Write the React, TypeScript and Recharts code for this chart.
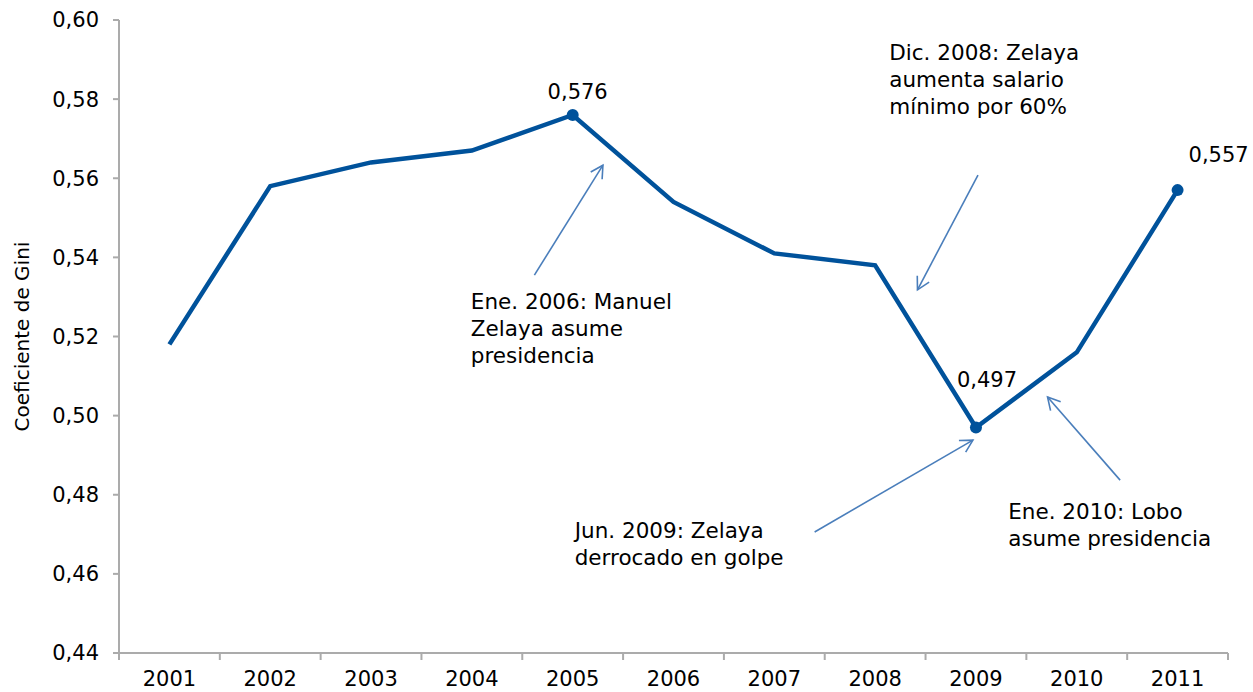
import { LineChart, Line, XAxis, YAxis, ReferenceLine, ReferenceDot } from "recharts";

const years = [2001, 2002, 2003, 2004, 2005, 2006, 2007, 2008, 2009, 2010, 2011];
const gini = [0.518, 0.558, 0.564, 0.567, 0.576, 0.554, 0.541, 0.538, 0.497, 0.516, 0.557];
const labeledYears = [2005, 2009, 2011];
const yTicks = [0.44, 0.46, 0.48, 0.5, 0.52, 0.54, 0.56, 0.58, 0.6];

// annotation text anchor (left / first-line middle) and arrow, in data units
const notes = [
  { lines: ["Ene. 2006: Manuel", "Zelaya asume", "presidencia"], at: [2003.99, 0.5287], from: [2004.62, 0.5355], to: [2005.3, 0.5633] },
  { lines: ["Dic. 2008: Zelaya", "aumenta salario", "mínimo por 60%"], at: [2008.14, 0.5917], from: [2009.02, 0.5608], to: [2008.42, 0.5318] },
  { lines: ["Jun. 2009: Zelaya", "derrocado en golpe"], at: [2005.02, 0.4708], from: [2007.4, 0.4706], to: [2008.97, 0.4938] },
  { lines: ["Ene. 2010: Lobo", "asume presidencia"], at: [2009.32, 0.4756], from: [2010.43, 0.4837], to: [2009.71, 0.5047] },
];

const FONT = "'DejaVu Sans', Verdana, sans-serif";
const LINE = "#00529b";
const ARROW = "#4a7ebb";
const AXIS = "#ababab";

// label offsets from the point (px)
const labelOffset: Record<number, [number, number]> = {
  2005: [5, -16],
  2009: [11, -40],
  2011: [41, -28],
};

const data = years.map((year, i) => ({ year, gini: gini[i] }));
const xTicks = years.flatMap((y) => [y - 0.5, y]).concat(years[years.length - 1] + 0.5);

function YearTick({ x, y, payload }: any) {
  const v = payload.value;
  if (Number.isInteger(v)) {
    return (
      <text x={x} y={y + 33} textAnchor="middle" fontSize={21} fill="#000" fontFamily={FONT}>
        {v}
      </text>
    );
  }
  return <line x1={x} x2={x} y1={y} y2={y + 7} stroke={AXIS} strokeWidth={2} />;
}

function Arrow({ x1, y1, x2, y2 }: any) {
  const ang = Math.atan2(y2 - y1, x2 - x1);
  const len = 14;
  const spread = 0.5;
  const ax = x2 - len * Math.cos(ang - spread);
  const ay = y2 - len * Math.sin(ang - spread);
  const bx = x2 - len * Math.cos(ang + spread);
  const by = y2 - len * Math.sin(ang + spread);
  return (
    <g stroke={ARROW} strokeWidth={1.6} fill="none">
      <line x1={x1} y1={y1} x2={x2} y2={y2} />
      <polyline points={`${ax},${ay} ${x2},${y2} ${bx},${by}`} />
    </g>
  );
}

function PointDot(p: any) {
  const year = p.payload.year;
  if (!labeledYears.includes(year)) return <g key={p.key} />;
  const [dx, dy] = labelOffset[year];
  return (
    <g key={p.key}>
      <circle cx={p.cx} cy={p.cy} r={6} fill={LINE} />
      <text x={p.cx + dx} y={p.cy + dy} textAnchor="middle" fontSize={21} fill="#000" fontFamily={FONT}>
        {p.payload.gini.toFixed(3).replace(".", ",")}
      </text>
    </g>
  );
}

export default function App() {
  return (
    <div style={{ position: "absolute", left: 0, top: 0, background: "#fff" }}>
      <LineChart width={1253} height={692} data={data} margin={{ top: 20, right: 25, bottom: 0, left: 0 }}>
        <XAxis
          dataKey="year"
          type="number"
          domain={[2000.5, 2011.5]}
          ticks={xTicks}
          interval={0}
          tick={<YearTick />}
          tickLine={false}
          tickSize={0}
          tickMargin={0}
          height={39}
          axisLine={{ stroke: AXIS, strokeWidth: 2 }}
        />
        <YAxis
          domain={[0.44, 0.6]}
          ticks={yTicks}
          width={119}
          tickSize={6}
          tickMargin={14}
          tickFormatter={(v: number) => v.toFixed(2).replace(".", ",")}
          tick={{ fontSize: 21, fill: "#000", fontFamily: FONT }}
          tickLine={{ stroke: AXIS, strokeWidth: 2 }}
          axisLine={{ stroke: AXIS, strokeWidth: 2 }}
          label={(props: any) => {
            const vb = props.viewBox;
            const cx = vb.x + 22;
            const cy = vb.y + vb.height / 2;
            return (
              <text
                x={cx}
                y={cy}
                transform={`rotate(-90, ${cx}, ${cy})`}
                textAnchor="middle"
                dominantBaseline="central"
                fontSize={20}
                fill="#000"
                fontFamily={FONT}
              >
                Coeficiente de Gini
              </text>
            );
          }}
        />
        <Line
          dataKey="gini"
          stroke={LINE}
          strokeWidth={4.5}
          dot={PointDot}
          activeDot={false}
          isAnimationActive={false}
        />
        {notes.map((n, i) => (
          <ReferenceLine
            key={`a${i}`}
            segment={[{ x: n.from[0], y: n.from[1] }, { x: n.to[0], y: n.to[1] }]}
            ifOverflow="visible"
            shape={Arrow}
          />
        ))}
        {notes.map((n, i) => (
          <ReferenceDot
            key={`t${i}`}
            x={n.at[0]}
            y={n.at[1]}
            r={0}
            ifOverflow="visible"
            shape={(p: any) => (
              <text x={p.cx} y={p.cy + 7} fontSize={21.5} fill="#000" fontFamily={FONT}>
                {n.lines.map((l, j) => (
                  <tspan key={j} x={p.cx} dy={j === 0 ? 0 : 27}>
                    {l}
                  </tspan>
                ))}
              </text>
            )}
          />
        ))}
      </LineChart>
    </div>
  );
}
